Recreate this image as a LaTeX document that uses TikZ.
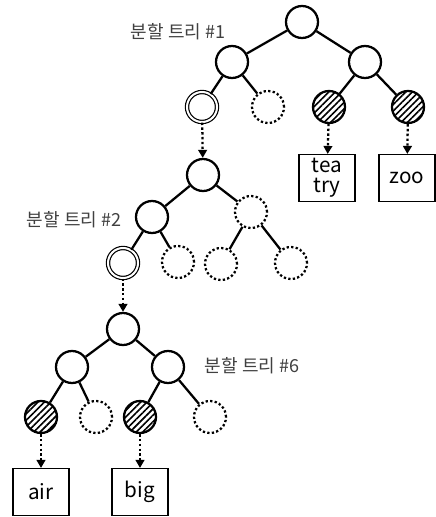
\documentclass[tikz,border=0pt]{standalone}
\usepackage{fontspec}
\setmainfont{Noto Sans CJK KR}
\usetikzlibrary{arrows.meta}
\usetikzlibrary{patterns.meta}

\begin{document}
\begin{tikzpicture}[x=0.75pt, y=-0.75pt,
    knot/.style={circle, draw, line width=1.7pt, minimum size=24pt, inner sep=0pt},
    leafknot/.style={knot, pattern={Lines[angle=45, distance=3.4pt, line width=1.2pt]}},
    emptyknot/.style={knot, dash pattern=on 1.7pt off 1.7pt},
    splitknot/.style={circle, draw, double, line width=0.9pt, double distance=1.5pt,
                      minimum size=22.5pt, inner sep=0pt},
    wordbox/.style={rectangle, draw, line width=1.1pt, minimum width=42pt,
                    minimum height=35pt, inner sep=0pt, font=\fontsize{15.5}{15}\selectfont,
                    align=center},
    edge/.style={line width=1.7pt},
    link/.style={line width=1.7pt, dash pattern=on 1.8pt off 1.8pt,
                 -{Triangle[length=6pt, width=6.5pt]}},
    treename/.style={text=black!75, font=\fontsize{13.5}{15}\selectfont}]
  \useasboundingbox (0,0) rectangle (435,517);

  % split tree #1
  \node[knot]      (r1)  at (302,22)  {};
  \node[knot]      (a1)  at (232,62)  {};
  \node[knot]      (b1)  at (365,62)  {};
  \node[splitknot] (aa1) at (202,107) {};
  \node[emptyknot] (ab1) at (268,107) {};
  \node[leafknot]  (ba1) at (329,107) {};
  \node[leafknot]  (bb1) at (408,107) {};
  \node[treename]  (n1)  at (178,32)  {분할 트리 \#1};
  \draw[edge] (r1) -- (a1);
  \draw[edge] (r1) -- (b1);
  \draw[edge] (a1) -- (aa1);
  \draw[edge] (a1) -- (ab1);
  \draw[edge] (b1) -- (ba1);
  \draw[edge] (b1) -- (bb1);

  % buckets under tree #1
  \node[wordbox] (w1) at (327,178) {tea\\try};
  \node[wordbox] (w2) at (407,178) {zoo};
  \draw[link] (ba1) -- (w1);
  \draw[link] (bb1) -- (w2);

  % split tree #2
  \node[knot]      (r2)  at (203,175) {};
  \node[knot]      (a2)  at (152,217) {};
  \node[emptyknot] (b2)  at (251,212) {};
  \node[splitknot] (aa2) at (123,263) {};
  \node[emptyknot] (ab2) at (178,262) {};
  \node[emptyknot] (ba2) at (221,264) {};
  \node[emptyknot] (bb2) at (291,263) {};
  \node[treename]  (n2)  at (74,220)  {분할 트리 \#2};
  \draw[link] (aa1) -- (r2);
  \draw[edge] (r2) -- (a2);
  \draw[edge] (r2) -- (b2);
  \draw[edge] (a2) -- (aa2);
  \draw[edge] (a2) -- (ab2);
  \draw[edge] (b2) -- (ba2);
  \draw[edge] (b2) -- (bb2);

  % split tree #6
  \node[knot]      (r6)  at (123,329) {};
  \node[knot]      (a6)  at (72,367)  {};
  \node[knot]      (b6)  at (168,367) {};
  \node[leafknot]  (aa6) at (41,417)  {};
  \node[emptyknot] (ab6) at (96,417)  {};
  \node[leafknot]  (ba6) at (140,417) {};
  \node[emptyknot] (bb6) at (210,417) {};
  \node[treename]  (n6)  at (252,366) {분할 트리 \#6};
  \draw[link] (aa2) -- (r6);
  \draw[edge] (r6) -- (a6);
  \draw[edge] (r6) -- (b6);
  \draw[edge] (a6) -- (aa6);
  \draw[edge] (a6) -- (ab6);
  \draw[edge] (b6) -- (ba6);
  \draw[edge] (b6) -- (bb6);

  % buckets under tree #6
  \node[wordbox] (w3) at (41,492)  {air};
  \node[wordbox] (w4) at (140,492) {big};
  \draw[link] (aa6) -- (w3);
  \draw[link] (ba6) -- (w4);
\end{tikzpicture}
\end{document}
